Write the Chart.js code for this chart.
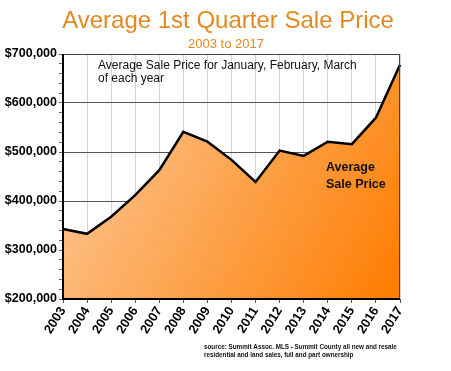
<!DOCTYPE html>
<html>
<head>
<meta charset="utf-8">
<script src="https://cdn.jsdelivr.net/npm/chart.js@4"></script>
<style>
  html, body { margin: 0; padding: 0; background: #fff; }
  #wrap { width: 451px; height: 371px; }
</style>
</head>
<body>
<div id="wrap"><canvas id="priceChart" width="451" height="371"></canvas></div>
<script>
// years and average 1st-quarter sale price
const years = ["2003","2004","2005","2006","2007","2008","2009","2010","2011","2012","2013","2014","2015","2016","2017"];
const avgPrice = [343000, 333000, 368000, 412000, 463000, 541000, 521000, 484000, 439000, 503000, 492000, 521000, 516000, 570000, 678000];
const yMin = 200000;
const yMax = 700000;

const FONT = "'Liberation Sans', Arial, Helvetica, sans-serif";
const ORANGE = "#e3891f";

// text drawn around the plot
const textPlugin = {
  id: "texts",
  afterDraw(chart) {
    const ctx = chart.ctx;
    const a = chart.chartArea;
    ctx.save();
    ctx.textBaseline = "alphabetic";
    ctx.fillStyle = ORANGE;
    ctx.textAlign = "center";
    ctx.font = "24px " + FONT;
    ctx.fillText("Average 1st Quarter Sale Price", 228, 28);
    ctx.font = "13px " + FONT;
    ctx.fillText("2003 to 2017", 226, 48);

    ctx.fillStyle = "#111";
    ctx.textAlign = "left";
    ctx.font = "12px " + FONT;
    ctx.fillText("Average Sale Price for January, February, March", a.left + 35, a.top + 15);
    ctx.fillText("of each year", a.left + 35, a.top + 28);

    ctx.font = "bold 12.5px " + FONT;
    ctx.fillText("Average", a.left + 263, a.top + 117);
    ctx.fillText("Sale Price", a.left + 263, a.top + 134);

    ctx.font = "bold 6.3px " + FONT;
    ctx.fillText("source: Summit Assoc. MLS - Summit County all new and resale", 204, 349);
    ctx.fillText("residential and land sales, full and part ownership", 204, 357);

    // frame
    ctx.strokeStyle = "#444";
    ctx.lineWidth = 1;
    ctx.beginPath();
    ctx.moveTo(a.left, a.top + 0.5);
    ctx.lineTo(a.right - 0.5, a.top + 0.5);
    ctx.lineTo(a.right - 0.5, a.bottom);
    ctx.stroke();
    ctx.strokeStyle = "#000";
    ctx.lineWidth = 2;
    ctx.beginPath();
    ctx.moveTo(a.left, a.top);
    ctx.lineTo(a.left, a.bottom);
    ctx.lineTo(a.right, a.bottom);
    ctx.stroke();
    ctx.restore();
  }
};

function areaGradient(context) {
  const chart = context.chart;
  const a = chart.chartArea;
  if (!a) return "#ffa040";
  const g = chart.ctx.createLinearGradient(a.left, a.top + 60, a.right, a.bottom);
  g.addColorStop(0, "#fdc898");
  g.addColorStop(0.5, "#fca24a");
  g.addColorStop(1, "#ff7c00");
  return g;
}

new Chart(document.getElementById("priceChart"), {
  type: "line",
  data: {
    labels: years,
    datasets: [{
      label: "Average Sale Price",
      data: avgPrice,
      borderColor: "#000",
      borderWidth: 2.5,
      backgroundColor: areaGradient,
      fill: "start",
      tension: 0,
      pointRadius: 0
    }]
  },
  options: {
    responsive: false,
    animation: false,
    layout: { padding: { left: 4, right: 51, top: 54, bottom: 0 } },
    plugins: {
      legend: { display: false },
      tooltip: { enabled: false }
    },
    scales: {
      x: {
        offset: false,
        grid: {
          color: "#d4d4d4",
          lineWidth: 1,
          tickColor: "#555",
          tickLength: 4,
          drawOnChartArea: true
        },
        border: { display: false },
        ticks: {
          color: "#000",
          font: { family: FONT, size: 13, weight: "bold" },
          minRotation: 58,
          maxRotation: 58,
          padding: 1,
          autoSkip: false
        },
        afterFit(scale) { scale.height = 72; }
      },
      y: {
        min: yMin,
        max: yMax,
        grid: {
          color: (c) => (c.tick && c.tick.value % 100000 === 0) ? "#555" : "rgba(0,0,0,0)",
          lineWidth: 1,
          tickColor: "#666",
          tickLength: 4
        },
        border: { display: false },
        ticks: {
          stepSize: 20000,
          autoSkip: false,
          color: "#000",
          padding: 2,
          font: { family: FONT, size: 12.5, weight: "bold" },
          callback: (v) => v % 100000 === 0 ? "$" + v.toLocaleString("en-US") : ""
        },
        afterFit(scale) { scale.width = 59; }
      }
    }
  },
  plugins: [textPlugin]
});
</script>
</body>
</html>
